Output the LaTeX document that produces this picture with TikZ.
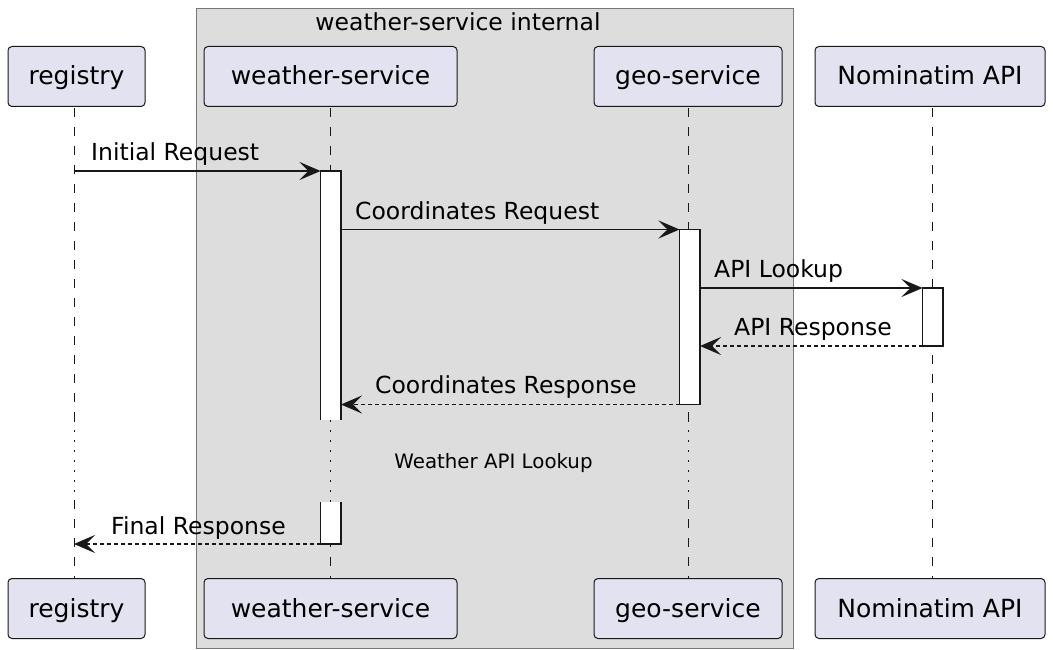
\documentclass[tikz,border=0pt]{standalone}
\usepackage{fontspec}
\setmainfont{DejaVu Sans}
\usetikzlibrary{arrows.meta}
\definecolor{partfill}{HTML}{E2E2F0}
\definecolor{partdraw}{HTML}{181818}
\definecolor{grpfill}{HTML}{DDDDDD}
\definecolor{grpdraw}{HTML}{777777}
\begin{document}
\begin{tikzpicture}[x=1pt,y=-1pt,
  part/.style={draw=partdraw,fill=partfill,line width=1pt,rounded corners=4pt,
    inner sep=0pt,outer sep=0pt,anchor=north west,minimum height=60pt,
    font=\fontsize{25}{29}\selectfont,text height=23pt,text depth=6pt},
  lifeline/.style={draw=partdraw,line width=1pt,dash pattern=on 9pt off 10pt},
  delayline/.style={draw=partdraw,line width=1pt,dash pattern=on 1.5pt off 8.5pt},
  actfill/.style={fill=white,draw=none,inner sep=0pt,outer sep=0pt,anchor=north west,minimum width=20.5pt},
  actline/.style={draw=partdraw,line width=1.6pt},
  msg/.style={draw=partdraw,line width=1.6pt,-{Stealth[length=21pt,width=18pt,inset=9pt]}},
  ret/.style={msg,dash pattern=on 4pt off 3pt},
  lbl/.style={anchor=base west,inner sep=0pt,font=\fontsize{23.5}{27}\selectfont},
]
\useasboundingbox (0,0) rectangle (1053,650);
% group
\node[draw=grpdraw,fill=grpfill,line width=1.2pt,inner sep=0pt,anchor=north west,
  minimum width=597pt,minimum height=640pt] (grp) at (196,8) {};
\node[anchor=base,inner sep=0pt,font=\fontsize{23.5}{27}\selectfont] (grptitle) at (458,31) {weather-service internal};
% lifelines
\foreach \n/\x in {reg/74,ws/330.5,geo/688.5,nom/932}{
  \coordinate (\n T) at (\x,108);
  \coordinate (\n A) at (\x,420);
  \coordinate (\n B) at (\x,500);
  \coordinate (\n E) at (\x,578);
  \draw[lifeline] (\n T) -- (\n A);
  \draw[delayline] (\n A) -- (\n B);
  \draw[lifeline] (\n B) -- (\n E);
}
% activations
\node[actfill,minimum height=249pt] (wa1) at (320.5,171) {};
\draw[actline] (wa1.south west) -- (wa1.north west) -- (wa1.north east) -- (wa1.south east);
\node[actfill,minimum height=42pt] (wa2) at (320.5,502) {};
\draw[actline] (wa2.north west) -- (wa2.south west) -- (wa2.south east) -- (wa2.north east);
\node[actfill,draw=partdraw,line width=1.6pt,minimum height=175pt] (ga) at (679.5,229.5) {};
\node[actfill,draw=partdraw,line width=1.6pt,minimum height=58pt] (na) at (922.5,288) {};
% messages
\draw[msg] (regT |- wa1.north) -- (wa1.north west);
\node[lbl] (l1) at (91,161) {Initial Request};
\draw[msg] (wa1.east |- ga.north) -- (ga.north west);
\node[lbl] (l2) at (355,219) {Coordinates Request};
\draw[msg] (ga.east |- na.north) -- (na.north west);
\node[lbl] (l3) at (714,277) {API Lookup};
\draw[ret] (na.south west) -- (ga.east |- na.south);
\node[lbl] (l4) at (734,335) {API Response};
\draw[ret] (ga.south west) -- (wa1.east |- ga.south);
\node[lbl] (l5) at (375,393) {Coordinates Response};
\node[anchor=base,inner sep=0pt,font=\fontsize{19.8}{23}\selectfont] (delay) at (493.5,468) {Weather API Lookup};
\draw[ret] (wa2.south west) -- (regT |- wa2.south);
\node[lbl] (l6) at (111,534) {Final Response};
% participants
\node[part,minimum width=137pt] (reg) at (8,46.5) {registry};
\node[part,minimum width=253pt] (ws) at (204,46.5) {weather-service};
\node[part,minimum width=188pt] (geo) at (594,46.5) {geo-service};
\node[part,minimum width=230pt] (nom) at (815,46.5) {Nominatim API};
\node[part,minimum width=137pt] (reg2) at (8,578.5) {registry};
\node[part,minimum width=253pt] (ws2) at (204,578.5) {weather-service};
\node[part,minimum width=188pt] (geo2) at (594,578.5) {geo-service};
\node[part,minimum width=230pt] (nom2) at (815,578.5) {Nominatim API};
\end{tikzpicture}
\end{document}
